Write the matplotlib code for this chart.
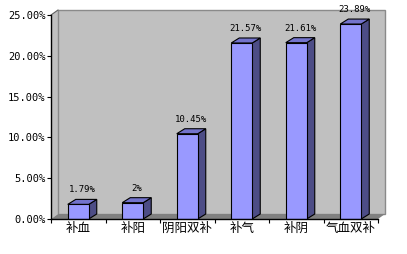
import numpy as np
import matplotlib
matplotlib.use("Agg")
import matplotlib.pyplot as plt
from matplotlib.patches import Polygon

categories = ["补血", "补阳", "阴阳双补", "补气", "补阴", "气血双补"]
values = [1.79, 2, 10.45, 21.57, 21.61, 23.89]
value_labels = ["1.79%", "2%", "10.45%", "21.57%", "21.61%", "23.89%"]
y_ticks = [0, 5, 10, 15, 20, 25]

plt.rcParams['font.family'] = ['Noto Sans CJK SC', 'DejaVu Sans']

W, H = 407, 254
fig = plt.figure(figsize=(W / 100, H / 100), dpi=100, facecolor='white')
# axes box in pixels: x 51..378, y 219..15
ax = fig.add_axes([51 / W, 35 / H, 327 / W, 204 / H])
ax.set_xlim(-0.5, len(categories) - 0.5)
ax.set_ylim(0, 25)
ax.patch.set_visible(False)

px_x = (len(categories)) / 327.0   # data units per pixel
px_y = 25 / 204.0
wall_dx, wall_dy = 7 * px_x, 5 * px_y
bar_dx, bar_dy = 8 * px_x, 5 * px_y

x0, x1 = -0.5, len(categories) - 0.5
gray = '#c0c0c0'
# left wall
ax.add_patch(Polygon([(x0, 0), (x0, 25), (x0 + wall_dx, 25 + wall_dy), (x0 + wall_dx, wall_dy)],
                     closed=True, facecolor=gray, edgecolor='none', clip_on=False, zorder=0))
# back wall
ax.add_patch(Polygon([(x0 + wall_dx, wall_dy), (x0 + wall_dx, 25 + wall_dy),
                      (x1 + wall_dx, 25 + wall_dy), (x1 + wall_dx, wall_dy)],
                     closed=True, facecolor=gray, edgecolor='#8a8a8a', lw=1.0, clip_on=False, zorder=0))
# floor
ax.add_patch(Polygon([(x0, 0), (x1, 0), (x1 + wall_dx, wall_dy), (x0 + wall_dx, wall_dy)],
                     closed=True, facecolor='#808080', edgecolor='none', clip_on=False, zorder=1))
ax.plot([x0, x0 + wall_dx], [25, 25 + wall_dy], color='#606060', lw=0.8, clip_on=False, zorder=1)

x = np.arange(len(categories))
bw = 21 / 54.5
bars = ax.bar(x, values, width=bw, color='#9999ff', edgecolor='black', lw=0.8, zorder=3)
for b, v, lab in zip(bars, values, value_labels):
    xl, xr = b.get_x(), b.get_x() + b.get_width()
    ax.add_patch(Polygon([(xr, 0), (xr, v), (xr + bar_dx, v + bar_dy), (xr + bar_dx, bar_dy)],
                         closed=True, facecolor='#4d4d86', edgecolor='black', lw=0.8, zorder=2, clip_on=False))
    ax.add_patch(Polygon([(xl, v), (xr, v), (xr + bar_dx, v + bar_dy), (xl + bar_dx, v + bar_dy)],
                         closed=True, facecolor='#7373cc', edgecolor='black', lw=0.8, zorder=2, clip_on=False))
    ax.text(b.get_x() + b.get_width() / 2 + bar_dx / 2, v + bar_dy + 5 * px_y, lab,
            ha='center', va='bottom', fontsize=6.5, family='DejaVu Sans Mono', clip_on=False)

ax.set_yticks(y_ticks)
ax.set_yticklabels(["%.2f%%" % t for t in y_ticks], family='DejaVu Sans Mono', fontsize=7.5)
ax.tick_params(axis='y', direction='out', length=3, width=0.8, pad=1)
ax.set_xticks(x)
ax.set_xticklabels(categories, fontsize=9)
ax.set_xticks(np.arange(len(categories) + 1) - 0.5, minor=True)
ax.tick_params(axis='x', which='major', length=0, pad=2)
ax.tick_params(axis='x', which='minor', direction='out', length=3, width=0.8)

for s in ['top', 'right']:
    ax.spines[s].set_visible(False)
for s in ['left', 'bottom']:
    ax.spines[s].set_linewidth(1.0)
    ax.spines[s].set_zorder(5)

fig.savefig('out.png', dpi=100, facecolor='white')
